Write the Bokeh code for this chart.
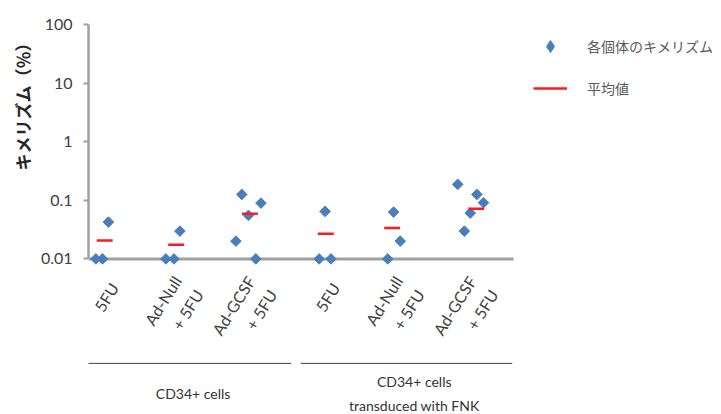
import math
from bokeh.plotting import figure
from bokeh.models import (Range1d, FixedTicker, NumeralTickFormatter,
                          Legend, LegendItem, ColumnDataSource, Title)
from bokeh.core.properties import value
from bokeh.embed import file_html
from bokeh.resources import INLINE

# ---------------- data ----------------
categories = ["5FU", "Ad-Null\n+ 5FU", "Ad-GCSF\n+ 5FU",
              "5FU", "Ad-Null\n+ 5FU", "Ad-GCSF\n+ 5FU"]
# chimerism (%) of each individual, per category
chimerism = [
    [0.01, 0.01, 0.0425],
    [0.01, 0.01, 0.0298],
    [0.0201, 0.126, 0.0552, 0.01, 0.0895],
    [0.01, 0.0646, 0.01],
    [0.01, 0.0629, 0.0201],
    [0.187, 0.0298, 0.0605, 0.126, 0.091],
]
# horizontal jitter of each individual inside its category
jitter = [
    [-0.10, -0.01, 0.07],
    [-0.15, -0.04, 0.04],
    [-0.20, -0.12, -0.03, 0.07, 0.14],
    [-0.07, 0.01, 0.09],
    [-0.14, -0.06, 0.03],
    [-0.19, -0.10, -0.02, 0.07, 0.16],
]
mean_values = [0.0207, 0.0175, 0.059, 0.0269, 0.0336, 0.072]
mean_jitter = [0.02, -0.01, -0.01, 0.02, -0.08, 0.06]

group_names = ["CD34+ cells", "CD34+ cells\ntransduced with FNK"]
group_first = [0, 3]
group_last = [2, 5]

y_ticks = [0.01, 0.1, 1, 10, 100]
legend_labels = ["各個体のキメリズム", "平均値"]
y_title = "キメリズム（％）"

# ---------------- style / layout ----------------
BLUE = "#4a7ebb"
RED = "#ff1a1a"
AXIS_GRAY = "#a0a0a0"
TXT = "#404040"
FIG_W, FIG_H = 720, 413
LEFT, TOP = 88, 24
PX_PER_DEC = 58.6
UNIT = 73.7                     # pixels per category
X_START = -0.2
X_END = X_START + (FIG_W - LEFT) / UNIT
Y_END = 100
Y_START = 10 ** (2 - (FIG_H - TOP) / PX_PER_DEC)
AXIS_END = 5.567
MEAN_HALF = 0.108
LABEL_SHIFT = 0.15


def below_axis(decades):
    """y value lying the given number of decades below 0.01 (log scale)"""
    return 10 ** (-2 - decades)


xs, ys = [], []
for i, (vals, offs) in enumerate(zip(chimerism, jitter)):
    for v, o in zip(vals, offs):
        xs.append(i + o)
        ys.append(v)
pts = ColumnDataSource(dict(x=xs, y=ys))

mx = [i + o for i, o in enumerate(mean_jitter)]
means = ColumnDataSource(dict(x0=[m - MEAN_HALF for m in mx],
                              x1=[m + MEAN_HALF for m in mx],
                              y=mean_values))

p = figure(width=FIG_W, height=FIG_H,
           x_range=Range1d(X_START, X_END), y_range=Range1d(Y_START, Y_END),
           y_axis_type="log", x_axis_location=None,
           output_backend="svg", toolbar_location=None,
           min_border_left=LEFT, min_border_top=TOP, min_border_right=0,
           min_border_bottom=0)
p.grid.visible = False
p.outline_line_color = None

# horizontal axis line at 0.01
p.segment(x0=[X_START], x1=[AXIS_END], y0=[0.01], y1=[0.01],
          line_color=AXIS_GRAY, line_width=3)

r_pts = p.scatter(x="x", y="y", source=pts, marker="square", angle=math.pi / 4,
                  size=7.5, fill_color=BLUE, line_color=BLUE, line_width=1)
r_mean = p.segment(x0="x0", y0="y", x1="x1", y1="y", source=means,
                   line_color=RED, line_width=2.5)
# legend key for the individual points (diamond shape, not drawn in the plot)
nan = float("nan")
r_key = p.scatter(x=[nan], y=[nan], marker="diamond", fill_color=BLUE,
                  line_color=BLUE, line_width=1)

# y axis
ya = p.yaxis[0]
ya.ticker = FixedTicker(ticks=y_ticks)
ya.formatter = NumeralTickFormatter(format="0.[00]")
ya.bounds = (0.01, 100)
ya.axis_line_color = AXIS_GRAY
ya.axis_line_width = 2.5
ya.major_tick_line_color = AXIS_GRAY
ya.major_tick_line_width = 2
ya.major_tick_out = 5
ya.major_tick_in = 0
ya.minor_tick_line_color = None
ya.major_label_text_font = "Lato"
ya.major_label_text_font_size = "16px"
ya.major_label_text_color = TXT
ya.major_label_standoff = 11

p.add_layout(Title(text=y_title, align="right", offset=10,
                   text_font="Noto Sans CJK JP", text_font_size="17px",
                   text_font_style="bold", text_color="#262626",
                   standoff=6), "left")

# category labels under the axis line
p.text(x=[i + LABEL_SHIFT for i in range(len(categories))],
       y=[below_axis(0.435)] * len(categories), text=categories,
       angle=math.radians(58), text_align="right", text_baseline="middle",
       text_font=value("Lato"), text_font_size="16px", text_color=TXT,
       text_line_height=1.35)

# group brackets and names
gx0 = [f - 0.32 for f in group_first]
gx1 = [l + 0.55 for l in group_last]
gcx = [(f + l) / 2 + 0.22 for f, l in zip(group_first, group_last)]
p.segment(x0=gx0, x1=gx1, y0=[below_axis(1.783)] * 2,
          y1=[below_axis(1.783)] * 2, line_color="#404040", line_width=1)
p.text(x=gcx, y=[below_axis(2.3)] * 2, text=group_names,
       text_align="center", text_baseline="middle", text_font=value("Lato"),
       text_font_size="14px", text_color="#333333", text_line_height=1.4)

legend = Legend(items=[LegendItem(label=legend_labels[0], renderers=[r_key]),
                       LegendItem(label=legend_labels[1], renderers=[r_mean])],
                location="top_right", margin=7, padding=0, spacing=12,
                glyph_width=34, glyph_height=30, label_height=30,
                label_standoff=20, border_line_color=None,
                background_fill_alpha=0,
                label_text_font="Noto Sans CJK JP",
                label_text_font_size="14px", label_text_color="#595959")
p.add_layout(legend, "center")

open("out.html", "w").write(file_html(p, INLINE))
